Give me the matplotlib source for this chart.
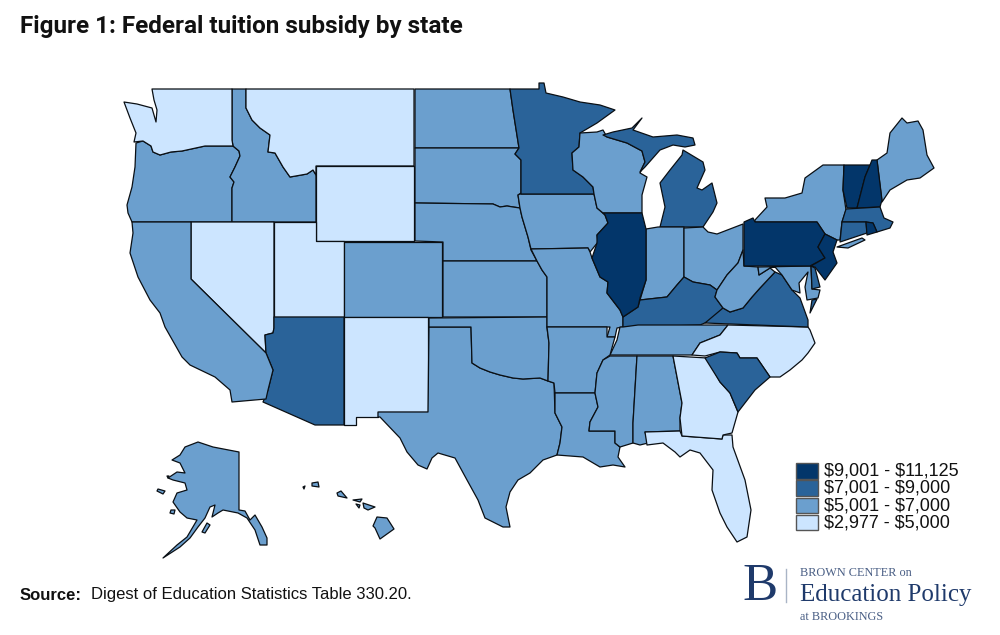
import matplotlib
matplotlib.use('Agg')
import matplotlib.pyplot as plt
from matplotlib.patches import Rectangle

# Outlines, in picture pixels
WA = [(152,89),(232,89),(232,140),(233,146),(205,146),(182,151),(171,152),(160,155),(153,152),(151,146),(143,141),(134,142),(136,133),(130,118),(124,102),(137,104),(152,108),(156,122),(157,110),(154,100)]
OR = [(136,143),(143,141),(151,146),(153,152),(160,155),(171,152),(182,151),(205,146),(233,146),(239,151),(240,156),(235,167),(230,177),(234,182),(232,188),(232,222),(132,222),(128,213),(127,205),(132,187),(135,167)]
ID = [(232,89),(246,89),(246,108),(252,120),(260,128),(270,135),(268,152),(275,153),(283,167),(290,177),(307,174),(313,170),(316,175),(316,222),(232,222),(232,188),(234,182),(230,177),(235,167),(240,156),(239,151),(233,146),(232,140)]
MT = [(246,89),(414,89),(414,166),(316,166),(316,175),(313,170),(307,174),(290,177),(283,167),(275,153),(268,152),(270,135),(260,128),(252,120),(246,108)]
WY = [(316,166),(414,166),(414,241),(316,241)]
NV = [(191,222),(274,222),(274,328),(273,333),(265,335),(266,353),(191,279)]
UT = [(274,222),(316,222),(316,241),(344,241),(344,317),(274,317)]
CO = [(344,242),(442,242),(442,317),(344,317)]
AZ = [(274,317),(344,317),(344,425),(315,425),(263,402),(268,390),(273,370),(266,353),(265,335),(273,333),(274,328)]
NM = [(344,317),(428,317),(428,412),(378,412),(378,417),(356,417),(356,425),(344,425)]
CA = [(132,222),(191,222),(191,279),(266,353),(273,370),(268,390),(266,399),(232,402),(230,390),(215,377),(190,365),(182,357),(165,327),(160,313),(150,300),(138,277),(130,253),(133,233)]
ND = [(415,89),(510,89),(513,110),(519,148),(415,148)]
SD = [(415,148),(519,148),(515,154),(521,160),(521,193),(518,195),(520,208),(513,207),(507,206),(500,207),(493,204),(415,203)]
NE = [(415,203),(493,204),(500,207),(507,206),(513,207),(520,208),(522,217),(528,237),(531,250),(537,261),(443,261),(443,242),(415,241)]
KS = [(443,261),(537,261),(542,270),(547,277),(547,317),(443,317)]
OK = [(429,318),(547,317),(547,328),(549,343),(548,381),(540,378),(523,379),(513,378),(500,375),(490,372),(480,368),(472,363),(471,327),(429,327)]
TX = [(429,327),(471,327),(472,363),(480,368),(490,372),(500,375),(513,378),(523,379),(540,378),(548,381),(554,383),(555,413),(562,427),(560,443),(557,455),(543,460),(530,473),(518,480),(510,492),(506,507),(510,527),(503,527),(485,518),(478,500),(467,480),(455,458),(438,453),(432,458),(427,469),(418,465),(407,452),(400,438),(380,417),(378,417),(378,412),(428,412)]
IA = [(520,194),(594,194),(597,208),(605,215),(608,223),(597,235),(598,242),(590,252),(588,248),(531,249),(528,237),(522,217),(520,208),(518,195)]
MN = [(510,89),(539,89),(539,83),(544,83),(546,93),(563,97),(580,102),(600,105),(615,110),(597,123),(580,133),(579,147),(572,153),(573,170),(583,177),(593,187),(594,194),(521,194),(521,160),(515,154),(519,148),(513,110)]
WI = [(580,133),(597,132),(603,130),(607,137),(627,143),(642,151),(645,162),(640,173),(647,177),(642,195),(642,213),(603,213),(597,208),(594,194),(593,187),(583,177),(573,170),(572,153),(579,147)]
MI_UP = [(603,135),(613,132),(632,128),(642,118),(633,130),(653,137),(677,135),(693,138),(695,145),(685,147),(673,145),(660,150),(645,167),(640,172),(645,162),(642,151),(627,143),(607,137)]
MI_LP = [(683,150),(703,162),(705,170),(697,188),(702,190),(712,183),(717,203),(713,212),(703,227),(660,227),(665,207),(660,183),(670,170),(682,155)]
IL = [(603,213),(642,213),(646,229),(646,280),(640,298),(638,307),(623,317),(620,310),(607,293),(608,282),(600,277),(592,258),(597,243),(597,235),(608,223),(605,215)]
IN = [(646,229),(658,227),(684,227),(684,277),(677,285),(667,297),(640,300),(646,280)]
OH = [(684,228),(703,227),(708,232),(717,234),(743,224),(743,250),(738,263),(727,275),(717,290),(710,285),(693,282),(684,277)]
WV = [(743,250),(744,266),(758,267),(759,275),(770,268),(775,272),(760,288),(752,297),(743,308),(730,312),(723,308),(715,297),(717,290),(727,275),(738,263)]
PA = [(744,222),(753,218),(755,222),(817,222),(825,234),(818,247),(825,258),(810,266),(744,266)]
NY = [(755,220),(767,207),(765,198),(785,198),(802,193),(805,178),(823,165),(844,165),(843,190),(846,210),(842,222),(840,240),(837,240),(825,234),(817,222),(755,222)]
LI = [(837,247),(862,238),(865,240),(848,248)]
VT = [(844,165),(870,165),(865,177),(857,208),(847,208),(843,190)]
NH = [(870,165),(872,160),(877,160),(882,200),(880,207),(857,208),(865,177)]
ME = [(877,160),(887,153),(890,133),(902,118),(907,123),(918,121),(923,130),(927,155),(934,168),(920,178),(907,180),(890,190),(882,202)]
MA = [(846,209),(880,207),(884,218),(893,222),(890,228),(877,232),(873,223),(866,222),(842,222)]
CT = [(842,222),(866,222),(867,233),(840,242)]
RI = [(866,222),(873,223),(877,232),(867,235)]
NJ = [(825,234),(837,240),(833,252),(837,263),(825,280),(815,267),(811,266),(825,258),(818,247)]
DE = [(811,266),(815,268),(820,287),(812,289)]
MD = [(758,267),(811,266),(812,289),(820,290),(818,298),(807,300),(805,287),(808,272),(799,283),(800,293),(792,290),(782,275),(775,267),(770,268),(759,275)]
VA = [(775,272),(782,275),(792,290),(800,298),(808,320),(808,327),(705,323),(723,308),(730,312),(743,308),(752,297),(760,288)]
VA_SHORE = [(812,300),(817,299),(810,313)]
KY = [(684,277),(693,282),(710,285),(717,290),(715,297),(723,308),(712,320),(700,325),(638,327),(623,327),(623,317),(638,307),(640,300),(667,297),(677,285)]
TN = [(623,327),(638,325),(728,325),(720,335),(700,343),(692,355),(610,355),(617,340),(620,327)]
NC = [(692,355),(700,343),(720,335),(728,325),(808,327),(810,330),(815,343),(808,353),(802,360),(790,370),(780,377),(770,377),(757,358),(740,358),(737,353),(720,352),(705,356)]
SC = [(720,352),(737,353),(740,358),(757,358),(770,377),(755,390),(738,412),(730,393),(720,382),(705,358)]
GA = [(673,356),(707,358),(720,382),(730,393),(738,412),(732,433),(723,435),(722,439),(682,436),(680,418),(682,403)]
FL = [(645,432),(680,431),(682,436),(722,439),(723,435),(732,435),(733,447),(745,480),(751,510),(747,537),(737,542),(727,527),(720,513),(712,490),(713,470),(700,453),(690,450),(680,457),(675,452),(663,443),(647,445)]
AL = [(637,356),(673,356),(682,403),(680,418),(680,431),(645,432),(648,443),(640,445),(633,443),(633,423)]
MS = [(610,356),(637,356),(633,423),(633,443),(620,447),(615,443),(615,431),(589,431),(590,422),(598,407),(595,393),(597,373),(603,360)]
AR = [(547,327),(607,327),(607,337),(615,337),(610,355),(603,360),(597,373),(595,393),(555,393),(554,383),(548,381),(549,343)]
LA = [(555,393),(595,393),(598,407),(590,422),(589,431),(615,431),(615,443),(620,447),(618,457),(625,467),(613,465),(600,467),(583,457),(557,455),(560,443),(562,427),(555,413)]
MO = [(531,249),(588,248),(590,252),(592,258),(600,277),(608,282),(607,293),(620,310),(623,317),(623,327),(617,328),(615,337),(607,337),(610,327),(547,327),(547,277),(542,270),(537,261)]
AK = [(198,442),(213,447),(239,452),(239,510),(245,511),(250,520),(255,515),(262,527),(267,538),(267,545),(260,545),(255,530),(247,518),(238,513),(223,510),(218,513),(212,517),(215,505),(210,507),(205,518),(198,527),(190,538),(180,547),(163,558),(177,545),(187,537),(197,520),(187,518),(180,512),(173,502),(177,493),(187,490),(185,483),(173,480),(168,478),(177,472),(185,473),(180,463),(172,460),(180,455),(185,447)]
AK_KODIAK = [(207,523),(210,525),(205,533),(202,532)]
AK_NUNIVAK = [(158,489),(165,491),(163,494),(157,491)]
AK_STL = [(167,476),(169,476),(168,478)]
AK_UNIMAK = [(171,510),(175,510),(174,514),(170,513)]
HI_BIG = [(377,517),(387,518),(394,529),(380,539),(375,528),(373,526)]
HI_MAUI = [(363,503),(375,507),(368,510),(364,508)]
HI_MOLOKAI = [(353,500),(362,499),(360,502)]
HI_LANAI = [(356,504),(360,505),(359,508)]
HI_OAHU = [(337,493),(341,491),(347,498),(338,496)]
HI_KAUAI = [(312,483),(318,482),(319,487),(312,486)]
HI_NIIHAU = [(303,487),(305,486),(304,489)]

outlines = [OR, ID, WA, MT, WY, NV, UT, CO, NM, AZ, CA, ND, SD, NE, KS, TX, OK, IA, MO, MN, WI, MI_UP, MI_LP,
            IN, OH, KY, IL, TN, AR, LA, MS, AL, FL, GA, NC, SC, VA, VA_SHORE, WV, MD, DE, NY, LI, PA, NJ,
            ME, VT, NH, MA, CT, RI, AK, AK_KODIAK, AK_NUNIVAK, AK_STL, AK_UNIMAK,
            HI_BIG, HI_MAUI, HI_MOLOKAI, HI_LANAI, HI_OAHU, HI_KAUAI, HI_NIIHAU]
# subsidy tier of each outline: 0 lowest, 3 highest
tiers = [1, 1, 0, 0, 0, 0, 0, 1, 0, 2, 1, 1, 1, 1, 1, 1, 1, 1, 1, 2, 1, 2, 2,
         1, 1, 2, 3, 1, 1, 1, 1, 1, 0, 0, 0, 2, 2, 2, 1, 1, 2, 1, 1, 3, 3,
         1, 3, 3, 2, 2, 3, 1, 1, 1, 1, 1,
         1, 1, 1, 1, 1, 1, 1]

colors = ['#cce5ff', '#6b9fce', '#2a6399', '#03366a']
legend_labels = ['$2,977 - $5,000', '$5,001 - $7,000', '$7,001 - $9,000', '$9,001 - $11,125']

fig = plt.figure(figsize=(10, 6.35), dpi=100)
ax = fig.add_axes([0, 0, 1, 1])
ax.set_xlim(0, 1000)
ax.set_ylim(635, 0)
ax.axis('off')

for outline, tier in zip(outlines, tiers):
    xs = [p[0] for p in outline]
    ys = [p[1] for p in outline]
    ax.fill(xs, ys, facecolor=colors[tier], edgecolor='#0a0f14', linewidth=0.9, joinstyle='round')

# legend, top row is the highest tier
for i in range(4):
    y = 463 + i * 17.3
    ax.add_patch(Rectangle((796, y), 22, 15.5, facecolor=colors[3 - i], edgecolor='#555555', linewidth=1))
    ax.text(824, y + 8, legend_labels[3 - i].replace('$', r'\$'), fontsize=13, family='Liberation Sans',
            va='center', ha='left', color='#111111')

ax.text(20, 27, 'Figure 1: Federal tuition subsidy by state', fontsize=17.5, fontweight='bold',
        family='Roboto', va='center', ha='left', color='#111111')

ax.text(20, 595, 'Source:', fontsize=12, fontweight='bold', family='Liberation Sans', va='center', color='#111111')
ax.text(91, 595, 'Digest of Education Statistics Table 330.20.', fontsize=12, family='Liberation Sans',
        va='center', color='#111111')

# Brown Center logo, as text
navy = '#1f3a6b'
ax.text(760, 587, 'B', fontsize=38, family='Liberation Serif', color=navy, ha='center', va='center')
ax.plot([786, 786], [569, 602], color='#a9b4c6', linewidth=1)
ax.text(800, 573, 'BROWN CENTER on', fontsize=8.8, family='Liberation Serif', color='#4a5f85', va='center')
ax.text(800, 595, 'Education Policy', fontsize=18, family='Liberation Serif', color=navy, va='center')
ax.text(800, 617, 'at BROOKINGS', fontsize=8.8, family='Liberation Serif', color='#4a5f85', va='center')

fig.savefig('out.png', dpi=100)
